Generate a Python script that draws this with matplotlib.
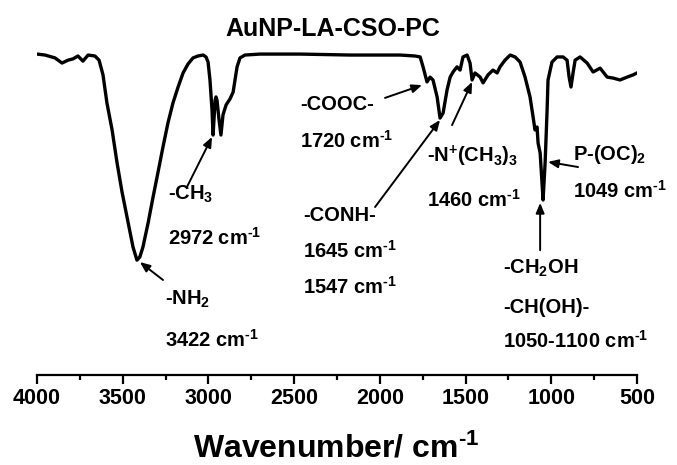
import numpy as np
import matplotlib
matplotlib.use('Agg')
import matplotlib.pyplot as plt

plt.rcParams['font.family'] = ['Liberation Sans', 'DejaVu Sans']
plt.rcParams['font.weight'] = 'bold'
plt.rcParams['mathtext.fontset'] = 'custom'
plt.rcParams['mathtext.rm'] = 'Liberation Sans:bold'
plt.rcParams['mathtext.it'] = 'Liberation Sans:bold'
plt.rcParams['mathtext.bf'] = 'Liberation Sans:bold'
plt.rcParams['mathtext.default'] = 'rm'

# FTIR trace (wavenumber, transmittance a.u.)
wavenumber = [4000, 3953, 3895, 3854, 3819, 3790, 3761, 3732, 3702, 3662, 3638,
              3615, 3592, 3562, 3533, 3504, 3475, 3440, 3417, 3400, 3382, 3352,
              3323, 3294, 3265, 3236, 3207, 3177, 3148, 3119, 3090, 3061, 3031,
              3014, 3002, 2991, 2979, 2973, 2967, 2961, 2956, 2950, 2938, 2927,
              2915, 2897, 2874, 2856, 2845, 2833, 2816, 2787, 2699, 2466, 2174,
              1882, 1795, 1765, 1748, 1725, 1707, 1690, 1666, 1649, 1631, 1608,
              1590, 1573, 1550, 1532, 1515, 1491, 1474, 1462, 1445, 1415, 1398,
              1369, 1340, 1316, 1299, 1270, 1240, 1211, 1182, 1153, 1124, 1106,
              1095, 1083, 1077, 1065, 1054, 1048, 1036, 1025, 1019, 996, 966,
              931, 908, 896, 885, 873, 861, 832, 791, 756, 715, 674, 639, 599,
              558, 523, 500]
transmittance = [100.3, 100.0, 99.1, 97.5, 98.4, 98.8, 99.7, 98.1, 100.0, 99.7, 98.4,
                 93.8, 85.0, 76.6, 66.3, 57.2, 49.4, 40.0, 35.9, 36.9, 40.0, 47.5,
                 55.6, 63.4, 71.3, 78.8, 85.0, 90.0, 94.4, 97.2, 99.1, 99.7, 100.0,
                 99.4, 97.8, 92.2, 82.8, 75.0, 80.3, 85.9, 86.9, 85.9, 79.7, 75.0,
                 81.3, 84.4, 86.3, 88.4, 92.2, 96.3, 99.1, 100.0, 100.3, 100.3, 100.0,
                 100.0, 99.7, 99.4, 96.3, 91.6, 93.1, 92.2, 86.9, 80.3, 81.9, 89.1,
                 93.1, 94.7, 96.3, 95.3, 99.4, 100.0, 97.5, 92.2, 94.4, 93.1, 91.3,
                 93.8, 95.3, 94.4, 96.3, 98.4, 100.0, 99.4, 97.8, 93.1, 86.9, 80.6,
                 76.6, 77.5, 72.5, 69.4, 60.0, 54.7, 66.3, 81.9, 92.2, 97.8, 99.4,
                 99.4, 98.4, 93.1, 90.0, 94.4, 98.4, 99.4, 97.5, 94.7, 95.9, 93.1, 92.8, 92.2,
                 93.1, 93.8, 94.4]

xticks = [4000, 3500, 3000, 2500, 2000, 1500, 1000, 500]

cm = r' cm$^{\text{-1}}$'
# (label lines, text position, arrow tail, arrow head)
labels = [
    (['-NH$_2$', '3422' + cm], 3253, [21.9, 8.75], (3265, 29.7), (3400, 35.3)),
    (['-CH$_3$', '2972' + cm], 3236, [54.7, 40.6], (3125, 58.8), (2979, 74.4)),
    (['-COOC-', '1720' + cm], 2466, [82.8, 70.9], (1970, 86.6), (1754, 90.6)),
    (['-CONH-', '1645' + cm, '1547' + cm], 2448, [48.1, 36.6, 25.5], (2028, 52.5), (1649, 79.7)),
    (['-N$^{+}$(CH$_3$)$_3$', '1460' + cm], 1725, [66.6, 52.5], (1579, 78.1), (1462, 91.6)),
    (['P-(OC)$_2$', '1049' + cm], 873, [67.2, 55.3], (844, 65.0), (1019, 66.6)),
    (['-CH$_2$OH', '-CH(OH)-', '1050-1100' + cm], 1282, [31.6, 19.4, 8.4], (1065, 39.0), (1065, 53.8)),
]

fig = plt.figure(figsize=(6.77, 4.65), dpi=100)
ax = fig.add_axes([37/677, 1-375/465, 600/677, 335/465])
ax.plot(wavenumber, transmittance, color='black', lw=2.4, solid_joinstyle='round')
ax.set_xlim(4000, 500)
ax.set_ylim(0, 104.7)

for lines, xt, ys, tail, head in labels:
    for txt, yt in zip(lines, ys):
        ax.text(xt, yt, txt, fontsize=14.5, fontweight='bold', ha='left', va='baseline')
    ax.annotate('', xy=head, xytext=tail,
                arrowprops=dict(arrowstyle='-|>,head_length=0.6,head_width=0.25',
                                color='black', lw=1.4, shrinkA=0, shrinkB=0))

for s in ['left', 'right', 'top']:
    ax.spines[s].set_visible(False)
ax.spines['bottom'].set_linewidth(1.6)
ax.set_yticks([])
ax.set_xticks(xticks)
ax.set_xticks(np.arange(3750, 500, -500), minor=True)
ax.tick_params(axis='x', which='major', direction='out', length=6.5, width=1.6,
               labelsize=15.5, pad=3)
ax.tick_params(axis='x', which='minor', direction='out', length=3.6, width=1.6)
for lab in ax.get_xticklabels():
    lab.set_fontweight('bold')

fig.text(333/677, 1-36/465, 'AuNP-LA-CSO-PC', fontsize=18, fontweight='bold',
         ha='center', va='baseline')
fig.text(336/677, 1-457/465, 'Wavenumber/' + r' cm$^{\text{-1}}$', fontsize=23,
         fontweight='bold', ha='center', va='baseline')

fig.savefig('out.png', dpi=100)
